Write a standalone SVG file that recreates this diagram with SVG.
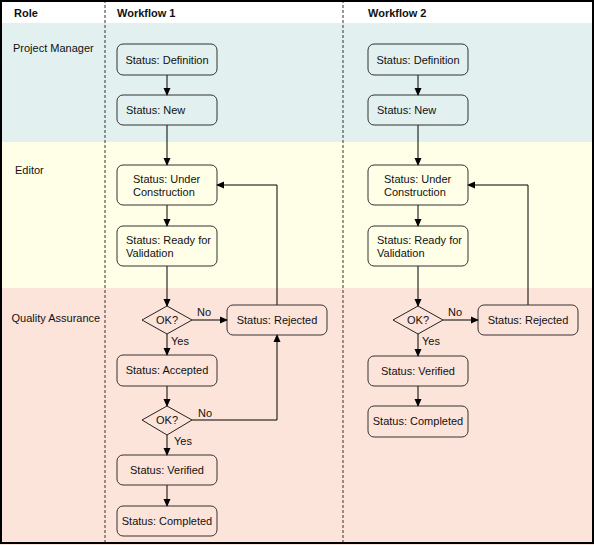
<svg xmlns="http://www.w3.org/2000/svg" width="594" height="545" viewBox="0 0 594 545">
<defs>
<marker id="arr" markerWidth="8" markerHeight="8" refX="7" refY="4" orient="auto" markerUnits="userSpaceOnUse">
<path d="M0,0.5 L8,4 L0,7.5 Z" fill="#000"/>
</marker>
<style>
text{font-family:"Liberation Sans",Arial,sans-serif;font-size:11px;fill:#111}
.h{font-weight:bold}
.c{text-anchor:middle}
.box{fill:none;stroke:#333;stroke-width:1}
.dia{fill:none;stroke:#222;stroke-width:1}
.ln{fill:none;stroke:#000;stroke-width:1}
.dash{stroke:#333;stroke-width:1;stroke-dasharray:3,2}
</style>
</defs>
<g id="lanes">
<rect x="0" y="0" width="594" height="23" fill="#ffffff"/>
<rect x="0" y="23" width="594" height="119" fill="#e2f0f0"/>
<rect x="0" y="142" width="594" height="146" fill="#fffee7"/>
<rect x="0" y="288" width="594" height="257" fill="#fde4da"/>
<line class="dash" x1="105" y1="0" x2="105" y2="545"/>
<line class="dash" x1="343" y1="0" x2="343" y2="545"/>
<rect x="1" y="1" width="592" height="542" fill="none" stroke="#000" stroke-width="2"/>
<text class="h" x="14" y="17">Role</text>
<text class="h" x="117" y="17">Workflow 1</text>
<text class="h" x="368" y="17">Workflow 2</text>
<text x="13" y="52">Project Manager</text>
<text x="15" y="174">Editor</text>
<text x="11.5" y="322">Quality Assurance</text>
</g>
<g id="connectors">
<line class="ln" x1="167" y1="75" x2="167" y2="95" marker-end="url(#arr)"/>
<line class="ln" x1="167" y1="125" x2="167" y2="165" marker-end="url(#arr)"/>
<line class="ln" x1="167" y1="205" x2="167" y2="226" marker-end="url(#arr)"/>
<line class="ln" x1="167" y1="266" x2="167" y2="306" marker-end="url(#arr)"/>
<line class="ln" x1="192" y1="320" x2="227" y2="320" marker-end="url(#arr)"/>
<text x="197" y="316">No</text>
<polyline class="ln" points="277,305 277,185 217,185" marker-end="url(#arr)"/>
<line class="ln" x1="167" y1="334" x2="167" y2="355" marker-end="url(#arr)"/>
<text x="171" y="345">Yes</text>
<line class="ln" x1="167" y1="386" x2="167" y2="406" marker-end="url(#arr)"/>
<polyline class="ln" points="192,420 277,420 277,335" marker-end="url(#arr)"/>
<text x="198" y="417">No</text>
<line class="ln" x1="167" y1="435" x2="167" y2="455" marker-end="url(#arr)"/>
<text x="174" y="445">Yes</text>
<line class="ln" x1="167" y1="485" x2="167" y2="506" marker-end="url(#arr)"/>

<line class="ln" x1="418" y1="75" x2="418" y2="95" marker-end="url(#arr)"/>
<line class="ln" x1="418" y1="125" x2="418" y2="165" marker-end="url(#arr)"/>
<line class="ln" x1="418" y1="205" x2="418" y2="226" marker-end="url(#arr)"/>
<line class="ln" x1="418" y1="266" x2="418" y2="306" marker-end="url(#arr)"/>
<line class="ln" x1="443" y1="320" x2="478" y2="320" marker-end="url(#arr)"/>
<text x="448" y="316">No</text>
<polyline class="ln" points="528,305 528,185 468,185" marker-end="url(#arr)"/>
<line class="ln" x1="418" y1="334" x2="418" y2="356" marker-end="url(#arr)"/>
<text x="422" y="345">Yes</text>
<line class="ln" x1="418" y1="386" x2="418" y2="406" marker-end="url(#arr)"/>
</g>
<g id="w1-definition"><rect class="box" x="117" y="44" width="100" height="31" rx="6"/><text class="c" x="167" y="64">Status: Definition</text></g>
<g id="w1-new"><rect class="box" x="117" y="95" width="100" height="30" rx="6"/><text x="126" y="114">Status: New</text></g>
<g id="w1-under"><rect class="box" x="117" y="165" width="100" height="40" rx="6"/><text x="133" y="183">Status: Under</text><text x="133" y="196">Construction</text></g>
<g id="w1-ready"><rect class="box" x="117" y="226" width="100" height="40" rx="6"/><text x="126" y="244">Status: Ready for</text><text x="126" y="257">Validation</text></g>
<g id="w1-ok1"><polygon class="dia" points="167,306 192,320 167,334 142,320"/><text class="c" x="167" y="324">OK?</text></g>
<g id="w1-rejected"><rect class="box" x="227" y="305" width="100" height="30" rx="6"/><text class="c" x="277" y="324">Status: Rejected</text></g>
<g id="w1-accepted"><rect class="box" x="117" y="355" width="100" height="31" rx="6"/><text class="c" x="167" y="374">Status: Accepted</text></g>
<g id="w1-ok2"><polygon class="dia" points="167,406 192,420 167,435 142,420"/><text class="c" x="167" y="424">OK?</text></g>
<g id="w1-verified"><rect class="box" x="117" y="455" width="100" height="30" rx="6"/><text class="c" x="167" y="474">Status: Verified</text></g>
<g id="w1-completed"><rect class="box" x="117" y="506" width="100" height="30" rx="6"/><text class="c" x="167" y="525">Status: Completed</text></g>

<g id="w2-definition"><rect class="box" x="368" y="44" width="100" height="31" rx="6"/><text class="c" x="418" y="64">Status: Definition</text></g>
<g id="w2-new"><rect class="box" x="368" y="95" width="100" height="30" rx="6"/><text x="377" y="114">Status: New</text></g>
<g id="w2-under"><rect class="box" x="368" y="165" width="100" height="40" rx="6"/><text x="384" y="183">Status: Under</text><text x="384" y="196">Construction</text></g>
<g id="w2-ready"><rect class="box" x="368" y="226" width="100" height="40" rx="6"/><text x="377" y="244">Status: Ready for</text><text x="377" y="257">Validation</text></g>
<g id="w2-ok"><polygon class="dia" points="418,306 443,320 418,334 393,320"/><text class="c" x="418" y="324">OK?</text></g>
<g id="w2-rejected"><rect class="box" x="478" y="305" width="100" height="30" rx="6"/><text class="c" x="528" y="324">Status: Rejected</text></g>
<g id="w2-verified"><rect class="box" x="368" y="356" width="100" height="30" rx="6"/><text class="c" x="418" y="375">Status: Verified</text></g>
<g id="w2-completed"><rect class="box" x="368" y="406" width="100" height="31" rx="6"/><text class="c" x="418" y="425">Status: Completed</text></g>
</svg>
